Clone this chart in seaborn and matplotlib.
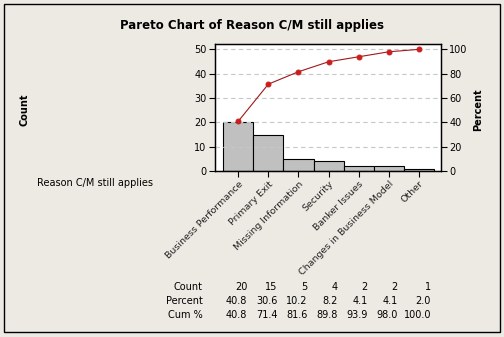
import matplotlib
matplotlib.use("Agg")
import matplotlib.pyplot as plt
import matplotlib.transforms as mtransforms
from matplotlib.patches import Rectangle
import seaborn as sns
import pandas as pd

categories = ["Business Performance", "Primary Exit", "Missing Information", "Security",
              "Banker Issues", "Changes in Business Model", "Other"]
counts = [20, 15, 5, 4, 2, 2, 1]
percents = [40.8, 30.6, 10.2, 8.2, 4.1, 4.1, 2.0]
cum_percents = [40.8, 71.4, 81.6, 89.8, 93.9, 98.0, 100.0]
left_ticks = [0, 10, 20, 30, 40, 50]
right_ticks = [0, 20, 40, 60, 80, 100]

sns.set_theme(style="white")
plt.rcParams['font.family'] = ['DejaVu Sans']
plt.rcParams['text.color'] = 'black'
plt.rcParams['axes.labelcolor'] = 'black'
plt.rcParams['xtick.color'] = 'black'
plt.rcParams['ytick.color'] = 'black'

bg = "#EDEAE3"
fig = plt.figure(figsize=(5.04, 3.37), dpi=100, facecolor=bg)
fig.patches.append(Rectangle((4/504, 5/337), 496/504, 328/337, transform=fig.transFigure,
                             fill=False, edgecolor="black", linewidth=1.0))

ax = fig.add_axes([215/504, 1-171/337, (441-215)/504, (171-44)/337])
df = pd.DataFrame({"cat": categories, "count": counts})
sns.barplot(data=df, x="cat", y="count", order=categories, color="#C0C0C0",
            edgecolor="black", linewidth=0.8, width=1.0, saturation=1, ax=ax)
ax.set_xlim(-0.77, 6.73)
ax.set_ylim(0, 52.2)
ax.set_yticks(left_ticks)
ax.set_xlabel("")
ax.set_ylabel("")
ax.tick_params(axis="both", direction="out", length=4, width=0.8, color="black",
               labelcolor="black", labelsize=7, pad=2, left=True, bottom=True)
ax.set_xticks(range(len(categories)))
ax.set_xticklabels(categories, rotation=45, ha="right", rotation_mode="anchor",
                   fontsize=6.8, color="#222222")
for s in ax.spines.values():
    s.set_color("black")
    s.set_linewidth(0.9)
ax.set_facecolor("white")

ax2 = ax.twinx()
ax2.set_ylim(0, 104.4)
ax2.set_yticks(right_ticks)
for t in right_ticks[1:]:
    ax2.axhline(t, color="#C4C8CC", linestyle=(0, (4, 3)), linewidth=0.8, zorder=0)
sns.lineplot(x=list(range(len(categories))), y=cum_percents, color="#A01818",
             marker="o", markersize=3.5, markerfacecolor="#C81E1E",
             markeredgecolor="#C81E1E", linewidth=0.8, ax=ax2)
ax2.tick_params(axis="y", direction="out", length=4, width=0.8, color="black",
                labelcolor="black", labelsize=7, pad=2, right=True)
ax2.set_ylabel("")
for s in ax2.spines.values():
    s.set_color("black")
    s.set_linewidth(0.9)
ax.set_zorder(0)
ax2.set_zorder(1)
ax2.patch.set_visible(False)

fig.text(252/504, 1-26/337, "Pareto Chart of Reason C/M still applies", ha="center",
         va="center", fontsize=8.5, fontweight="bold")
fig.text(24/504, 1-110/337, "Count", rotation=90, ha="center", va="center",
         fontsize=7, fontweight="bold")
fig.text(478/504, 1-110/337, "Percent", rotation=90, ha="center", va="center",
         fontsize=7, fontweight="bold")
fig.text(95/504, 1-183/337, "Reason C/M still applies", ha="center", va="center", fontsize=7)

trans = mtransforms.blended_transform_factory(ax.transData, fig.transFigure)
rows = [("Count", [str(c) for c in counts], 287),
        ("Percent", [f"{p:.1f}" for p in percents], 301),
        ("Cum %", [f"{p:.1f}" for p in cum_percents], 315)]
for label, vals, ypix in rows:
    fig.text(203/504, 1-ypix/337, label, ha="right", va="center", fontsize=7)
    for i, v in enumerate(vals):
        ax.text(i + 0.3 + (0.1 if i == 6 else 0), 1-ypix/337, v, transform=trans,
                ha="right", va="center", fontsize=7, clip_on=False)

fig.savefig("out.png", dpi=100, facecolor=bg)
